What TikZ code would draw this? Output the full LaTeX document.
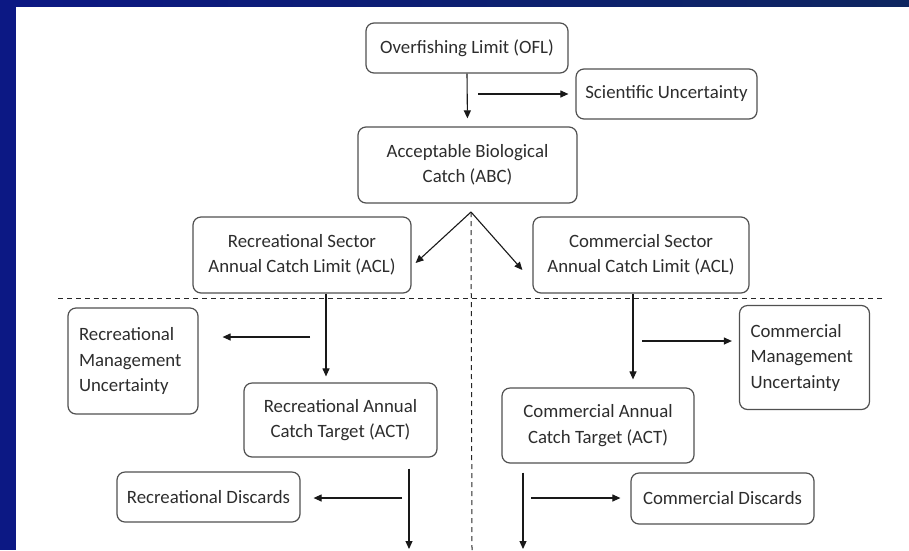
\documentclass[tikz,border=0pt]{standalone}
\usepackage{fontspec}
\setmainfont{Carlito}
\usetikzlibrary{arrows.meta}
\definecolor{navyL}{RGB}{12,24,132}
\definecolor{navyR}{RGB}{14,38,96}
\definecolor{boxline}{RGB}{80,80,80}
\definecolor{txt}{RGB}{45,45,45}
\tikzset{
  box/.style={draw=boxline, line width=1.2pt, rounded corners=8pt, fill=white,
    text=txt, align=center, inner sep=0pt,
    font=\fontsize{18.8}{25.5}\selectfont},
  leftbox/.style={box, align=left, text width=108pt, inner xsep=11pt},
  arr/.style={draw=black!90, line width=1.1pt, -{Triangle[length=8pt,width=7pt]}},
  sep/.style={draw=black!85, line width=1pt, dash pattern=on 5pt off 4pt}
}
\begin{document}
\begin{tikzpicture}[x=1pt,y=-1pt]
  % background
  \fill[white] (0,0) rectangle (909,550);
  \useasboundingbox (0,0) rectangle (909,550);
  \fill[navyL] (0,0) rectangle (16,550);
  \shade[left color=navyL, right color=navyR] (0,0) rectangle (909,6);

  % boxes
  \node[box, minimum width=202pt, minimum height=50pt] (ofl) at (467,48) {Overfishing Limit (OFL)};
  \node[box, minimum width=181pt, minimum height=50pt] (sci) at (666.5,94) {Scientific Uncertainty};
  \node[box, minimum width=219pt, minimum height=76pt] (abc) at (467.5,165) {Acceptable Biological\\Catch (ABC)};
  \node[box, minimum width=218pt, minimum height=76pt] (racl) at (302,255) {Recreational Sector\\Annual Catch Limit (ACL)};
  \node[box, minimum width=216pt, minimum height=76pt] (cacl) at (641,255) {Commercial Sector\\Annual Catch Limit (ACL)};
  \node[leftbox, minimum height=106pt] (rmu) at (133,361) {Recreational\\Management\\Uncertainty};
  \node[leftbox, minimum height=104pt] (cmu) at (804.5,357.5) {Commercial\\Management\\Uncertainty};
  \node[box, minimum width=193pt, minimum height=74pt] (ract) at (340.5,420) {Recreational Annual\\Catch Target (ACT)};
  \node[box, minimum width=192pt, minimum height=75pt] (cact) at (598,425.5) {Commercial Annual\\Catch Target (ACT)};
  \node[box, minimum width=183pt, minimum height=50pt] (rdis) at (208.5,497) {Recreational Discards};
  \node[box, minimum width=183pt, minimum height=51pt] (cdis) at (722.5,498.5) {Commercial Discards};

  % helper coordinates
  \coordinate (sc0) at (478,94);
  \coordinate (split) at (471,212);
  \coordinate (xr) at (326,0);
  \coordinate (rm0) at (310,337);
  \coordinate (xc) at (633,0);
  \coordinate (cm0) at (642,341);
  \coordinate (xr2) at (409,0);
  \coordinate (rend) at (409,549);
  \coordinate (rd0) at (402,498);
  \coordinate (xc2) at (523,0);
  \coordinate (cend) at (523,549);
  \coordinate (cd0) at (531,498);
  \coordinate (hl) at (58,298);
  \coordinate (hr) at (885,298);
  \coordinate (vb) at (472,550);

  % separators
  \draw[sep] (hl) -- (hr);
  \draw[sep] (split) -- (vb);

  % arrows
  \draw[arr, shorten >=8pt] (ofl.south) -- (abc.north);
  \draw[arr, shorten >=7pt] (sc0) -- (sc0 -| sci.west);
  \draw[arr] (split) -- ([shift={(4pt,-8pt)}]racl.east);
  \draw[arr] (split) -- ([shift={(-10pt,-15pt)}]cacl.west);
  \draw[arr, shorten >=6pt] (racl.south -| xr) -- (ract.north -| xr);
  \draw[arr, shorten >=24pt] (rm0) -- (rm0 -| rmu.east);
  \draw[arr, shorten >=8pt] (cacl.south -| xc) -- (cact.north -| xc);
  \draw[arr, shorten >=7pt] (cm0) -- (cm0 -| cmu.west);
  \draw[arr, shorten <=11pt] (ract.south -| xr2) -- (rend);
  \draw[arr, shorten >=13pt] (rd0) -- (rd0 -| rdis.east);
  \draw[arr, shorten <=9pt] (cact.south -| xc2) -- (cend);
  \draw[arr, shorten >=10pt] (cd0) -- (cd0 -| cdis.west);
\end{tikzpicture}
\end{document}
